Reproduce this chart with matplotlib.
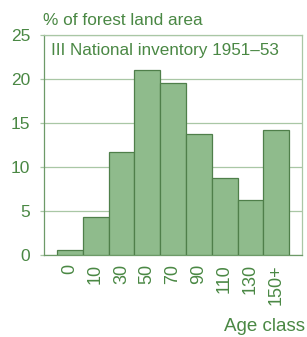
import matplotlib
matplotlib.use("Agg")
import matplotlib.pyplot as plt

# age classes and share of forest land area (%)
age_classes = ["0", "10", "30", "50", "70", "90", "110", "130", "150+"]
share = [0.6, 4.3, 11.7, 21.0, 19.6, 13.8, 8.7, 6.2, 14.15]

green_text = "#4a8844"
bar_fill = "#8fbb8c"
bar_edge = "#4f7f4a"
grid_col = "#a9c7a5"

plt.rcParams["font.family"] = ["Liberation Sans", "DejaVu Sans"]

fig = plt.figure(figsize=(3.07, 3.37), dpi=100)
ax = fig.add_axes([44 / 307, 1 - 255 / 337, 258 / 307, 220 / 337])

x = list(range(len(age_classes)))
ax.bar(x, share, width=1.0, color=bar_fill, edgecolor=bar_edge, linewidth=0.9, zorder=3)

ax.set_xlim(-1, 9)
ax.set_ylim(0, 25)
ax.set_yticks([0, 5, 10, 15, 20, 25])
ax.set_xticks(x)
ax.set_xticklabels(age_classes, rotation=90)

ax.yaxis.grid(True, color=grid_col, linewidth=0.9, zorder=0)
ax.tick_params(axis="y", colors=grid_col, labelcolor=green_text, labelsize=12.5,
               length=3, width=0.9, pad=7)
ax.tick_params(axis="x", length=0, labelcolor=green_text, labelsize=13, pad=6.5)

for side in ["top", "right"]:
    ax.spines[side].set_color(grid_col)
    ax.spines[side].set_linewidth(0.9)
ax.spines["left"].set_color("#6d9a68")
ax.spines["bottom"].set_color("#6d9a68")
ax.spines["left"].set_linewidth(0.9)
ax.spines["bottom"].set_linewidth(0.9)

ax.text(7 / 258, 1 - 8 / 220, "III National inventory 1951\u201353", transform=ax.transAxes,
        ha="left", va="top", fontsize=12.3, color=green_text)

fig.text(43 / 307, 1 - 25 / 337, "% of forest land area", ha="left", va="baseline",
         fontsize=12.4, color=green_text)
fig.text(305 / 307, 1 - 331 / 337, "Age class", ha="right", va="baseline",
         fontsize=13.5, color=green_text)

plt.savefig("out.png", dpi=100)
